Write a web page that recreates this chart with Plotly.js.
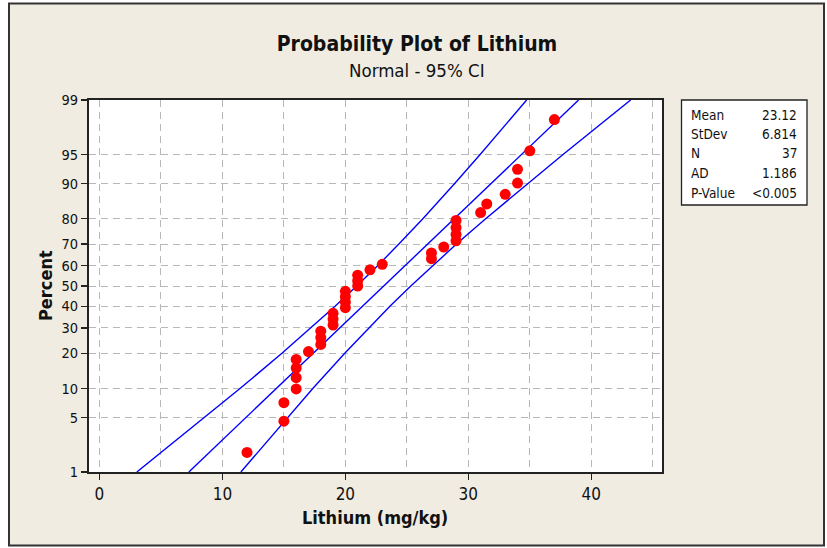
<!DOCTYPE html>
<html>
<head>
<meta charset="utf-8">
<script src="https://cdn.plot.ly/plotly-3.0.1.min.js"></script>
<style>
html,body{margin:0;padding:0;background:#ffffff;}
#chart{width:827px;height:548px;}
</style>
</head>
<body>
<div id="chart"></div>
<script>
// ---- data ----
const lithium = [12,15,15,16,16,16,16,17,18,18,18,19,19,19,20,20,20,20,21,21,21,22,23,27,27,28,29,29,29,29,31,31.5,33,34,34,35,37];
const pointPercent = [1.87,4.55,7.22,9.89,12.57,15.24,17.91,20.59,23.26,25.94,28.61,31.28,33.96,36.63,39.30,41.98,44.65,47.33,50.00,52.67,55.35,58.02,60.70,63.37,66.04,68.72,71.39,74.06,76.74,79.41,82.09,84.76,87.43,90.11,92.78,95.45,98.13];

const linePercent = [1,5,10,20,30,40,50,60,70,80,90,95,99];
const fitLine   = [7.27,11.91,14.39,17.39,19.55,21.39,23.12,24.85,26.69,28.85,31.85,34.33,38.97];
const lowerBand = [3.04,8.54,11.43,14.84,17.21,19.16,20.92,22.62,24.35,26.30,28.89,30.96,34.74];
const upperBand = [11.50,15.28,17.35,19.95,21.89,23.62,25.32,27.08,29.03,31.41,34.81,37.70,43.20];

const yTickPercent = [1,5,10,20,30,40,50,60,70,80,90,95,99];
const yTickLabels  = ["1","5","10","20","30","40","50","60","70","80","90","95","99"];
const xTickVals = [0,10,20,30,40];

const statLabels = ["Mean","StDev","N","AD","P-Value"];
const statValues = ["23.12","6.814","37","1.186","<0.005"];

const titleText = "Probability Plot of Lithium";
const subtitleText = "Normal - 95% CI";
const xTitle = "Lithium (mg/kg)";
const yTitle = "Percent";

// ---- normal probability scale ----
function norminv(p){
  const a=[-3.969683028665376e+01,2.209460984245205e+02,-2.759285104469687e+02,1.383577518672690e+02,-3.066479806614716e+01,2.506628277459239e+00];
  const b=[-5.447609879822406e+01,1.615858368580409e+02,-1.556989798598866e+02,6.680131188771972e+01,-1.328068155288572e+01];
  const c=[-7.784894002430293e-03,-3.223964580411365e-01,-2.400758277161838e+00,-2.549732539343734e+00,4.374664141464968e+00,2.938163982698783e+00];
  const d=[7.784695709041462e-03,3.224671290700398e-01,2.445134137142996e+00,3.754408661907416e+00];
  const pl=0.02425, ph=1-pl; let q,r;
  if(p<pl){q=Math.sqrt(-2*Math.log(p));return (((((c[0]*q+c[1])*q+c[2])*q+c[3])*q+c[4])*q+c[5])/((((d[0]*q+d[1])*q+d[2])*q+d[3])*q+1);}
  if(p<=ph){q=p-0.5;r=q*q;return (((((a[0]*r+a[1])*r+a[2])*r+a[3])*r+a[4])*r+a[5])*q/(((((b[0]*r+b[1])*r+b[2])*r+b[3])*r+b[4])*r+1);}
  q=Math.sqrt(-2*Math.log(1-p));return -(((((c[0]*q+c[1])*q+c[2])*q+c[3])*q+c[4])*q+c[5])/((((d[0]*q+d[1])*q+d[2])*q+d[3])*q+1);
}
const pz = arr => arr.map(p => norminv(p/100));

const FONT = "'DejaVu Sans Condensed', 'DejaVu Sans', sans-serif";
const blue = "#0000ff";

const traces = [
  {x: lowerBand, y: pz(linePercent), mode:"lines", line:{color:blue,width:1.4}, hoverinfo:"skip", showlegend:false},
  {x: fitLine,   y: pz(linePercent), mode:"lines", line:{color:blue,width:1.4}, hoverinfo:"skip", showlegend:false},
  {x: upperBand, y: pz(linePercent), mode:"lines", line:{color:blue,width:1.4}, hoverinfo:"skip", showlegend:false},
  {x: lithium, y: pz(pointPercent), mode:"markers", marker:{color:"#ff0000", size:11}, showlegend:false, cliponaxis:false}
];

// pixel -> paper helpers (plot area: x 89..662, y 100..472)
const L=89, R=662, T=100, B=472;
const px = v => (v-L)/(R-L);
const py = v => (B-v)/(B-T);

const annotations = [
  {text: subtitleText, xref:"paper", yref:"paper", x:px(417), y:py(70), showarrow:false, xanchor:"center", yanchor:"middle", font:{family:FONT,size:18.5,color:"#111"}},
  {text: "<b>"+xTitle+"</b>", xref:"paper", yref:"paper", x:px(375), y:py(517), showarrow:false, xanchor:"center", yanchor:"middle", font:{family:FONT,size:18,color:"#111"}},
  {text: "<b>"+yTitle+"</b>", xref:"paper", yref:"paper", x:px(45), y:py(286), showarrow:false, textangle:-90, xanchor:"center", yanchor:"middle", font:{family:FONT,size:18,color:"#111"}}
];
const rowY = [115,134,153,173,193];
statLabels.forEach((s,i)=>{
  annotations.push({text:s, xref:"paper", yref:"paper", x:px(689), y:py(rowY[i]), showarrow:false, xanchor:"left", yanchor:"middle", font:{family:FONT,size:13.5,color:"#111"}});
  annotations.push({text:statValues[i], xref:"paper", yref:"paper", x:px(799), y:py(rowY[i]), showarrow:false, xanchor:"right", yanchor:"middle", font:{family:FONT,size:13.5,color:"#111"}});
});

const shapes = [
  {type:"rect", xref:"paper", yref:"paper", x0:px(9), x1:px(824), y0:py(545.5), y1:py(3.5), fillcolor:"#f0ece2", line:{color:"#333",width:2}, layer:"below"},
  {type:"rect", xref:"paper", yref:"paper", x0:0, x1:1, y0:0, y1:1, fillcolor:"#ffffff", line:{width:0}, layer:"below"},
  {type:"rect", xref:"paper", yref:"paper", x0:px(681.5), x1:px(807), y0:py(205), y1:py(100), fillcolor:"#ffffff", line:{color:"#222",width:1.3}, layer:"above"}
];

const gridDash = "7px,5px";
const gridColor = "#b8b8b8";
const layout = {
  width:827, height:548,
  margin:{l:L, r:827-R, t:T, b:548-B, pad:0},
  paper_bgcolor:"#ffffff",
  plot_bgcolor:"rgba(0,0,0,0)",
  font:{family:FONT, color:"#111"},
  title:{text:"<b>"+titleText+"</b>", x:417/827, xanchor:"center", xref:"container", y:1-44/548, yanchor:"middle", yref:"container", font:{family:FONT,size:21,color:"#111"}},
  xaxis:{
    range:[-0.85,45.75], tickvals:xTickVals, ticktext:xTickVals.map(String),
    ticks:"outside", ticklen:6, tickcolor:"#222", tickwidth:1.5,
    showgrid:true, gridcolor:gridColor, griddash:gridDash, gridwidth:1,
    minor:{dtick:5, tick0:0, showgrid:true, gridcolor:gridColor, griddash:gridDash, gridwidth:1, ticks:""},
    showline:true, linecolor:"#222", linewidth:2, mirror:true,
    zeroline:false, tickfont:{family:FONT,size:17,color:"#111"}
  },
  yaxis:{
    range:[norminv(0.01), norminv(0.99)], tickvals:pz(yTickPercent), ticktext:yTickLabels,
    ticks:"outside", ticklen:6, tickcolor:"#222", tickwidth:1.5,
    showgrid:true, gridcolor:gridColor, griddash:gridDash, gridwidth:1,
    showline:true, linecolor:"#222", linewidth:2, mirror:true,
    zeroline:false, tickfont:{family:FONT,size:14.5,color:"#111"}
  },
  shapes: shapes,
  annotations: annotations,
  showlegend:false
};

Plotly.newPlot("chart", traces, layout, {displayModeBar:false, staticPlot:true});
</script>
</body>
</html>
